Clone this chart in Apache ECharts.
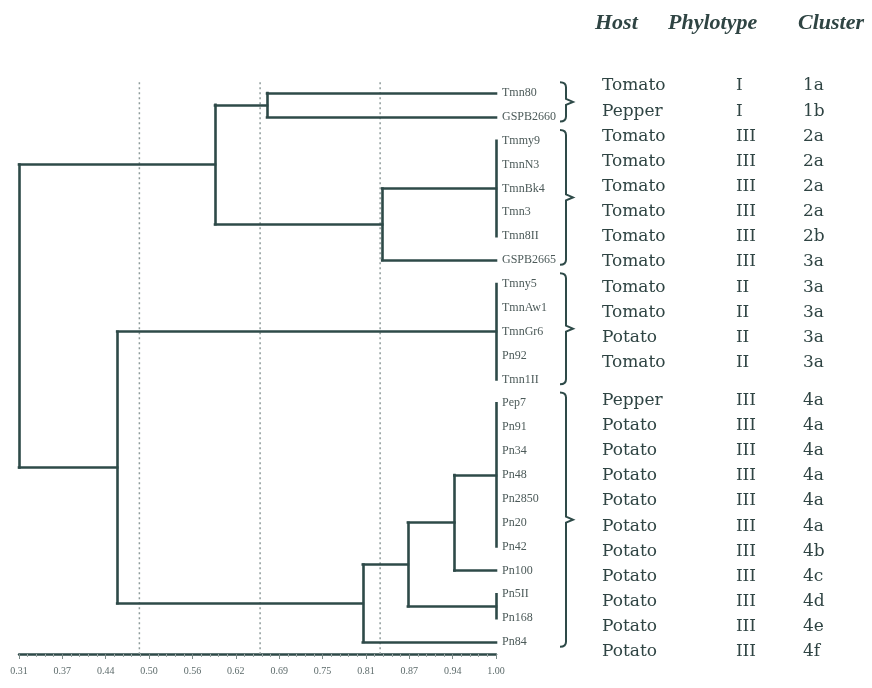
<!DOCTYPE html>
<html><head><meta charset="utf-8">
<script src="https://cdn.jsdelivr.net/npm/echarts@6/dist/echarts.min.js"></script>
<style>html,body{margin:0;padding:0;background:#fff}#c{width:872px;height:688px}</style>
</head><body><div id="c"></div>
<script>
// ---------- data ----------
const leafNames = ['Tmn80','GSPB2660','Tmmy9','TmnN3','TmnBk4','Tmn3','Tmn8II','GSPB2665',
  'Tmny5','TmnAw1','TmnGr6','Pn92','Tmn1II',
  'Pep7','Pn91','Pn34','Pn48','Pn2850','Pn20','Pn42','Pn100','Pn5II','Pn168','Pn84'];
const nodeNames    = ['A1','A2a','A2','A','B1','B2ai1','B2ai','B2aii','B2a','B2','B','root'];
const nodeHeights  = [0.670, 1.0, 0.836, 0.595, 1.0, 1.0, 0.940, 1.0, 0.873, 0.808, 0.454, 0.3125];
const nodeChildren = [
  ['L0','L1'], ['L2','L3','L4','L5','L6'], ['A2a','L7'], ['A1','A2'],
  ['L8','L9','L10','L11','L12'], ['L13','L14','L15','L16','L17','L18','L19'],
  ['B2ai1','L20'], ['L21','L22'], ['B2ai','B2aii'], ['B2a','L23'], ['B1','B2'], ['A','B']
];
const cutoffs = [0.486, 0.660, 0.833];
const tickLabels = ['0.31','0.37','0.44','0.50','0.56','0.62','0.69','0.75','0.81','0.87','0.94','1.00'];
const bracketGroups = [[0,1],[2,7],[8,12],[13,23]];
const tableHeaders = ['Host','Phylotype','Cluster'];
const hosts = ['Tomato','Pepper','Tomato','Tomato','Tomato','Tomato','Tomato','Tomato',
  'Tomato','Tomato','Potato','Tomato',
  'Pepper','Potato','Potato','Potato','Potato','Potato','Potato','Potato','Potato','Potato','Potato'];
const phylotypes = ['I','I','III','III','III','III','III','III',
  'II','II','II','II',
  'III','III','III','III','III','III','III','III','III','III','III'];
const clusters = ['1a','1b','2a','2a','2a','2a','2b','3a',
  '3a','3a','3a','3a',
  '4a','4a','4a','4a','4a','4a','4b','4c','4d','4e','4f'];
const tableGroupBreak = 12;   // rows from here on belong to the second block

// ---------- build ----------
const LINE = '#2e4a48';
const pos = {};
leafNames.forEach((n, i) => { pos['L' + i] = { x: 1.0, y: i }; });
const segs = [];
nodeNames.forEach((name, k) => {
  const h = nodeHeights[k];
  const ch = nodeChildren[k].map(c => pos[c]);
  const ys = ch.map(c => c.y);
  const y0 = Math.min(...ys), y1 = Math.max(...ys);
  segs.push([[h, y0], [h, y1]]);
  ch.forEach(c => { if (c.x > h) segs.push([[h, c.y], [c.x, c.y]]); });
  pos[name] = { x: h, y: (y0 + y1) / 2 };
});

const tableRows = [];
hosts.forEach((h, i) => {
  const ry = i + (i >= tableGroupBreak ? 0.5 : 0);
  tableRows.push([0, ry, h]);
  tableRows.push([1, ry, phylotypes[i]]);
  tableRows.push([2, ry, clusters[i]]);
});
const colX = [0, 0.515, 0.773];

const chart = echarts.init(document.getElementById('c'), null, { renderer: 'canvas' });
chart.setOption({
  backgroundColor: '#ffffff',
  animation: false,
  grid: [
    { left: 19, right: 376, top: 81, bottom: 34 },
    { left: 602, width: 260, top: 73.4, height: 603.6 }
  ],
  xAxis: [
    { type: 'value', gridIndex: 0, position: 'bottom', min: 0.3125, max: 1.0, interval: 0.0625,
      axisLine: { onZero: false, lineStyle: { color: LINE, width: 2.5 } },
      axisTick: { length: 5, lineStyle: { color: '#7a8a88', width: 1 } },
      minorTick: { show: true, splitNumber: 5, length: 3, lineStyle: { color: '#9aa6a5' } },
      splitLine: { show: false },
      axisLabel: { margin: 12, fontFamily: 'Liberation Serif', fontSize: 10, color: '#5d6b6b',
        formatter: v => tickLabels[Math.round((v - 0.3125) / 0.0625)] || '' } },
    { type: 'value', gridIndex: 1, min: 0, max: 1, show: false }
  ],
  yAxis: [
    { type: 'value', gridIndex: 0, inverse: true, min: -0.5, max: 23.5, show: false },
    { type: 'value', gridIndex: 1, inverse: true, min: -0.5, max: 23.5, show: false }
  ],
  graphic: tableHeaders.map((t, i) => ({
    type: 'text', left: [595, 668, 798][i], top: 12,
    style: { text: t, font: 'italic bold 22px "Liberation Serif"', fill: '#2f4443' }
  })),
  series: [
    { // cut-off lines
      type: 'custom', xAxisIndex: 0, yAxisIndex: 0, clip: false, z: 1,
      data: cutoffs.map(c => [c]),
      renderItem: (params, api) => {
        const a = api.coord([api.value(0), -0.45]);
        const b = api.coord([api.value(0), 23.5]);
        return { type: 'line', shape: { x1: a[0], y1: a[1], x2: b[0], y2: b[1] },
          style: { stroke: '#8f9c9b', lineWidth: 1.5, lineDash: [2, 3] } };
      }
    },
    { // dendrogram
      type: 'lines', coordinateSystem: 'cartesian2d', xAxisIndex: 0, yAxisIndex: 0, z: 3,
      polyline: false, silent: true,
      lineStyle: { color: LINE, width: 2.6, opacity: 1, cap: 'square' },
      data: segs.map(s => ({ coords: s }))
    },
    { // leaf labels
      type: 'custom', xAxisIndex: 0, yAxisIndex: 0, clip: false, z: 4,
      data: leafNames.map((n, i) => [1.0, i, n]),
      renderItem: (params, api) => {
        const p = api.coord([api.value(0), api.value(1)]);
        return { type: 'text', x: p[0] + 6, y: p[1],
          style: { text: leafNames[params.dataIndex], font: '12px "Liberation Serif"', fill: '#4c5a59',
            align: 'left', verticalAlign: 'middle' } };
      }
    },
    { // braces
      type: 'custom', xAxisIndex: 0, yAxisIndex: 0, clip: false, z: 4,
      data: bracketGroups,
      renderItem: (params, api) => {
        const a = api.coord([1.0, api.value(0) - 0.45]);
        const b = api.coord([1.0, api.value(1) + 0.2]);
        const x1 = a[0] + 70, x0 = x1 - 6, x2 = x1 + 7;
        const y0 = a[1], y1 = b[1], ym = (y0 + y1) / 2, r = 5;
        const d = `M${x0},${y0} Q${x1},${y0} ${x1},${y0 + r} L${x1},${ym - 3} L${x2},${ym} L${x1},${ym + 3} L${x1},${y1 - r} Q${x1},${y1} ${x0},${y1}`;
        return { type: 'path', shape: { pathData: d },
          style: { stroke: LINE, lineWidth: 2, fill: null } };
      }
    },
    { // table
      type: 'custom', xAxisIndex: 1, yAxisIndex: 1, clip: false, z: 4,
      data: tableRows,
      renderItem: (params, api) => {
        const row = tableRows[params.dataIndex];
        const p = api.coord([colX[row[0]], row[1]]);
        return { type: 'text', x: p[0], y: p[1],
          style: { text: row[2], font: '17px "DejaVu Serif"', fill: '#2f4443',
            align: 'left', verticalAlign: 'middle' } };
      }
    }
  ]
});
</script></body></html>
